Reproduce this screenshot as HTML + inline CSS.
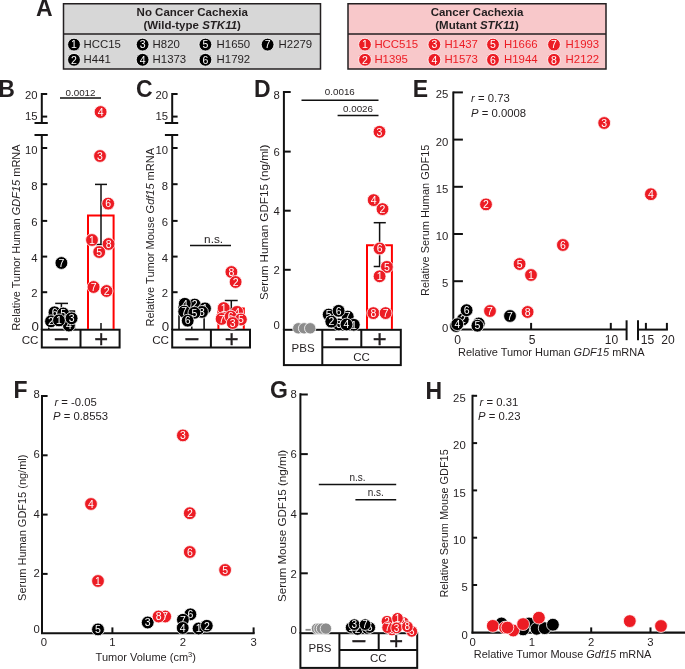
<!DOCTYPE html>
<html><head><meta charset="utf-8"><title>Figure</title>
<style>
html,body{margin:0;padding:0;background:#fff;}
svg{display:block;}
text{font-family:"Liberation Sans", Arial, sans-serif;}
</style></head>
<body>
<svg width="685" height="669" viewBox="0 0 685 669" fill="#231f20">
<rect x="0" y="0" width="685" height="669" fill="#fff"/>
<text x="36.1" y="16.3" font-size="23" font-weight="bold">A</text>
<rect x="63.5" y="3.75" width="257" height="65.25" stroke="#231f20" stroke-width="1.5" fill="#d7d7d7"/>
<line x1="63.5" y1="34" x2="320.5" y2="34" stroke="#231f20" stroke-width="1.5"/>
<text x="192.2" y="15.6" font-size="11.5" text-anchor="middle" font-weight="bold">No Cancer Cachexia</text>
<text x="192.2" y="28.6" font-size="11.5" text-anchor="middle" font-weight="bold">(Wild-type <tspan font-style="italic">STK11</tspan>)</text>
<rect x="348" y="3.75" width="258" height="65.25" stroke="#231f20" stroke-width="1.5" fill="#f8c8ca"/>
<line x1="348" y1="34" x2="606" y2="34" stroke="#231f20" stroke-width="1.5"/>
<text x="477" y="15.6" font-size="11.5" text-anchor="middle" font-weight="bold">Cancer Cachexia</text>
<text x="477" y="28.6" font-size="11.5" text-anchor="middle" font-weight="bold">(Mutant <tspan font-style="italic">STK11</tspan>)</text>
<circle cx="74" cy="44.6" r="6.4" fill="#000" stroke="#fff" stroke-width="0.8"/>
<text x="74" y="48.38" font-size="10.5" text-anchor="middle" fill="#fff">1</text>
<text x="83.6" y="48.2" font-size="11.4">HCC15</text>
<circle cx="74" cy="59.8" r="6.4" fill="#000" stroke="#fff" stroke-width="0.8"/>
<text x="74" y="63.58" font-size="10.5" text-anchor="middle" fill="#fff">2</text>
<text x="83.6" y="63.4" font-size="11.4">H441</text>
<circle cx="142.6" cy="44.6" r="6.4" fill="#000" stroke="#fff" stroke-width="0.8"/>
<text x="142.6" y="48.38" font-size="10.5" text-anchor="middle" fill="#fff">3</text>
<text x="152.6" y="48.2" font-size="11.4">H820</text>
<circle cx="142.6" cy="59.8" r="6.4" fill="#000" stroke="#fff" stroke-width="0.8"/>
<text x="142.6" y="63.58" font-size="10.5" text-anchor="middle" fill="#fff">4</text>
<text x="152.6" y="63.4" font-size="11.4">H1373</text>
<circle cx="205.4" cy="44.6" r="6.4" fill="#000" stroke="#fff" stroke-width="0.8"/>
<text x="205.4" y="48.38" font-size="10.5" text-anchor="middle" fill="#fff">5</text>
<text x="216.6" y="48.2" font-size="11.4">H1650</text>
<circle cx="205.4" cy="59.8" r="6.4" fill="#000" stroke="#fff" stroke-width="0.8"/>
<text x="205.4" y="63.58" font-size="10.5" text-anchor="middle" fill="#fff">6</text>
<text x="216.6" y="63.4" font-size="11.4">H1792</text>
<circle cx="267.6" cy="44.6" r="6.4" fill="#000" stroke="#fff" stroke-width="0.8"/>
<text x="267.6" y="48.38" font-size="10.5" text-anchor="middle" fill="#fff">7</text>
<text x="278.6" y="48.2" font-size="11.4">H2279</text>
<circle cx="365" cy="44.6" r="6.4" fill="#ec1c24" stroke="#fff" stroke-width="0.8"/>
<text x="365" y="48.38" font-size="10.5" text-anchor="middle" fill="#fff">1</text>
<text x="374.4" y="48.2" font-size="11.4" fill="#ec1c24">HCC515</text>
<circle cx="365" cy="59.8" r="6.4" fill="#ec1c24" stroke="#fff" stroke-width="0.8"/>
<text x="365" y="63.58" font-size="10.5" text-anchor="middle" fill="#fff">2</text>
<text x="374.4" y="63.4" font-size="11.4" fill="#ec1c24">H1395</text>
<circle cx="434.4" cy="44.6" r="6.4" fill="#ec1c24" stroke="#fff" stroke-width="0.8"/>
<text x="434.4" y="48.38" font-size="10.5" text-anchor="middle" fill="#fff">3</text>
<text x="444.4" y="48.2" font-size="11.4" fill="#ec1c24">H1437</text>
<circle cx="434.4" cy="59.8" r="6.4" fill="#ec1c24" stroke="#fff" stroke-width="0.8"/>
<text x="434.4" y="63.58" font-size="10.5" text-anchor="middle" fill="#fff">4</text>
<text x="444.4" y="63.4" font-size="11.4" fill="#ec1c24">H1573</text>
<circle cx="493" cy="44.6" r="6.4" fill="#ec1c24" stroke="#fff" stroke-width="0.8"/>
<text x="493" y="48.38" font-size="10.5" text-anchor="middle" fill="#fff">5</text>
<text x="504" y="48.2" font-size="11.4" fill="#ec1c24">H1666</text>
<circle cx="493" cy="59.8" r="6.4" fill="#ec1c24" stroke="#fff" stroke-width="0.8"/>
<text x="493" y="63.58" font-size="10.5" text-anchor="middle" fill="#fff">6</text>
<text x="504" y="63.4" font-size="11.4" fill="#ec1c24">H1944</text>
<circle cx="554" cy="44.6" r="6.4" fill="#ec1c24" stroke="#fff" stroke-width="0.8"/>
<text x="554" y="48.38" font-size="10.5" text-anchor="middle" fill="#fff">7</text>
<text x="565.6" y="48.2" font-size="11.4" fill="#ec1c24">H1993</text>
<circle cx="554" cy="59.8" r="6.4" fill="#ec1c24" stroke="#fff" stroke-width="0.8"/>
<text x="554" y="63.58" font-size="10.5" text-anchor="middle" fill="#fff">8</text>
<text x="565.6" y="63.4" font-size="11.4" fill="#ec1c24">H2122</text>
<text x="-1.7" y="96.6" font-size="23" font-weight="bold">B</text>
<line x1="41.8" y1="93" x2="41.8" y2="123.5" stroke="#111" stroke-width="2"/>
<line x1="41.8" y1="94" x2="47.2" y2="94" stroke="#111" stroke-width="2"/>
<line x1="41.8" y1="116.6" x2="47.2" y2="116.6" stroke="#111" stroke-width="2"/>
<line x1="34.5" y1="123" x2="47.8" y2="123" stroke="#111" stroke-width="2"/>
<line x1="34.5" y1="135" x2="47.8" y2="135" stroke="#111" stroke-width="2"/>
<line x1="41.8" y1="134.5" x2="41.8" y2="330" stroke="#111" stroke-width="2"/>
<line x1="41.8" y1="148" x2="47.2" y2="148" stroke="#111" stroke-width="2"/>
<line x1="41.8" y1="184.2" x2="47.2" y2="184.2" stroke="#111" stroke-width="2"/>
<line x1="41.8" y1="220.9" x2="47.2" y2="220.9" stroke="#111" stroke-width="2"/>
<line x1="41.8" y1="256.6" x2="47.2" y2="256.6" stroke="#111" stroke-width="2"/>
<line x1="41.8" y1="292.2" x2="47.2" y2="292.2" stroke="#111" stroke-width="2"/>
<text x="37.6" y="98.55" font-size="11.3" text-anchor="end">20</text>
<text x="37.6" y="120.15" font-size="11.3" text-anchor="end">15</text>
<text x="37.6" y="154.05" font-size="11.3" text-anchor="end">10</text>
<text x="37.6" y="189.65" font-size="11.3" text-anchor="end">8</text>
<text x="37.6" y="226.15" font-size="11.3" text-anchor="end">6</text>
<text x="37.6" y="262.05" font-size="11.3" text-anchor="end">4</text>
<text x="37.6" y="297.45" font-size="11.3" text-anchor="end">2</text>
<text x="38.8" y="330.66" font-size="13.3" text-anchor="end">0</text>
<rect x="41.8" y="329.7" width="77.8" height="17.8" stroke="#111" stroke-width="2" fill="none"/>
<line x1="80.5" y1="329.7" x2="80.5" y2="347.5" stroke="#111" stroke-width="2"/>
<text x="38.5" y="344.3" font-size="11.6" text-anchor="end">CC</text>
<text x="61.5" y="348" font-size="26.5" text-anchor="middle" stroke="#231f20" stroke-width="0.2">−</text>
<text x="101.2" y="347.4" font-size="23.7" text-anchor="middle" stroke="#231f20" stroke-width="0.35">+</text>
<text transform="translate(19.9,237.6) rotate(-90)" font-size="11" text-anchor="middle">Relative Tumor Human <tspan font-style="italic">GDF15</tspan> mRNA</text>
<line x1="60" y1="98" x2="101" y2="98" stroke="#111" stroke-width="1.5"/>
<text x="80.5" y="95.5" font-size="9.8" text-anchor="middle">0.0012</text>
<path d="M48.8 329V311.1H74.4V329" fill="none" stroke="#111" stroke-width="1.6"/>
<line x1="61.4" y1="303.4" x2="61.4" y2="318" stroke="#111" stroke-width="1.5"/>
<line x1="55.2" y1="303.4" x2="68" y2="303.4" stroke="#111" stroke-width="1.5"/>
<path d="M88 329V215.6H113.6V329" fill="none" stroke="#ff0000" stroke-width="2"/>
<line x1="101" y1="184.4" x2="101" y2="244.5" stroke="#111" stroke-width="1.5"/>
<line x1="95" y1="184.4" x2="107" y2="184.4" stroke="#111" stroke-width="1.5"/>
<line x1="95.5" y1="244.5" x2="106.5" y2="244.5" stroke="#111" stroke-width="1.5"/>
<line x1="101" y1="323" x2="101" y2="330" stroke="#111" stroke-width="1.5"/>
<circle cx="100.6" cy="112" r="6.4" fill="#ec1c24" stroke="#fff" stroke-width="0.8"/>
<text x="100.6" y="115.78" font-size="10.5" text-anchor="middle" fill="#fff">4</text>
<circle cx="100" cy="156" r="6.4" fill="#ec1c24" stroke="#fff" stroke-width="0.8"/>
<text x="100" y="159.78" font-size="10.5" text-anchor="middle" fill="#fff">3</text>
<circle cx="108.2" cy="203.6" r="6.4" fill="#ec1c24" stroke="#fff" stroke-width="0.8"/>
<text x="108.2" y="207.38" font-size="10.5" text-anchor="middle" fill="#fff">6</text>
<circle cx="92" cy="240" r="6.4" fill="#ec1c24" stroke="#fff" stroke-width="0.8"/>
<text x="92" y="243.78" font-size="10.5" text-anchor="middle" fill="#fff">1</text>
<circle cx="108.6" cy="244" r="6.4" fill="#ec1c24" stroke="#fff" stroke-width="0.8"/>
<text x="108.6" y="247.78" font-size="10.5" text-anchor="middle" fill="#fff">8</text>
<circle cx="99.2" cy="252" r="6.4" fill="#ec1c24" stroke="#fff" stroke-width="0.8"/>
<text x="99.2" y="255.78" font-size="10.5" text-anchor="middle" fill="#fff">5</text>
<circle cx="93.6" cy="287" r="6.4" fill="#ec1c24" stroke="#fff" stroke-width="0.8"/>
<text x="93.6" y="290.78" font-size="10.5" text-anchor="middle" fill="#fff">7</text>
<circle cx="106.6" cy="291" r="6.4" fill="#ec1c24" stroke="#fff" stroke-width="0.8"/>
<text x="106.6" y="294.78" font-size="10.5" text-anchor="middle" fill="#fff">2</text>
<circle cx="61.4" cy="263" r="6.4" fill="#000" stroke="#fff" stroke-width="0.8"/>
<text x="61.4" y="266.78" font-size="10.5" text-anchor="middle" fill="#fff">7</text>
<circle cx="54.6" cy="312.3" r="6.4" fill="#000" stroke="#fff" stroke-width="0.8"/>
<text x="54.6" y="316.08" font-size="10.5" text-anchor="middle" fill="#fff">6</text>
<circle cx="63.2" cy="313.5" r="6.4" fill="#000" stroke="#fff" stroke-width="0.8"/>
<text x="63.2" y="317.28" font-size="10.5" text-anchor="middle" fill="#fff">5</text>
<circle cx="51" cy="321.3" r="6.4" fill="#000" stroke="#fff" stroke-width="0.8"/>
<text x="51" y="325.08" font-size="10.5" text-anchor="middle" fill="#fff">2</text>
<circle cx="68.9" cy="325.5" r="6.4" fill="#000" stroke="#fff" stroke-width="0.8"/>
<text x="68.9" y="329.28" font-size="10.5" text-anchor="middle" fill="#fff">4</text>
<circle cx="59" cy="320.4" r="6.4" fill="#000" stroke="#fff" stroke-width="0.8"/>
<text x="59" y="324.18" font-size="10.5" text-anchor="middle" fill="#fff">1</text>
<circle cx="71.6" cy="318.3" r="6.4" fill="#000" stroke="#fff" stroke-width="0.8"/>
<text x="71.6" y="322.08" font-size="10.5" text-anchor="middle" fill="#fff">3</text>
<text x="136.1" y="97" font-size="23" font-weight="bold">C</text>
<line x1="172.2" y1="93" x2="172.2" y2="123.5" stroke="#111" stroke-width="2"/>
<line x1="172.2" y1="94" x2="177.6" y2="94" stroke="#111" stroke-width="2"/>
<line x1="172.2" y1="116.6" x2="177.6" y2="116.6" stroke="#111" stroke-width="2"/>
<line x1="164.9" y1="123" x2="178.2" y2="123" stroke="#111" stroke-width="2"/>
<line x1="164.9" y1="135" x2="178.2" y2="135" stroke="#111" stroke-width="2"/>
<line x1="172.2" y1="134.5" x2="172.2" y2="330" stroke="#111" stroke-width="2"/>
<line x1="172.2" y1="148" x2="177.6" y2="148" stroke="#111" stroke-width="2"/>
<line x1="172.2" y1="184.2" x2="177.6" y2="184.2" stroke="#111" stroke-width="2"/>
<line x1="172.2" y1="220.9" x2="177.6" y2="220.9" stroke="#111" stroke-width="2"/>
<line x1="172.2" y1="256.6" x2="177.6" y2="256.6" stroke="#111" stroke-width="2"/>
<line x1="172.2" y1="292.2" x2="177.6" y2="292.2" stroke="#111" stroke-width="2"/>
<text x="168" y="98.55" font-size="11.3" text-anchor="end">20</text>
<text x="168" y="120.15" font-size="11.3" text-anchor="end">15</text>
<text x="168" y="154.05" font-size="11.3" text-anchor="end">10</text>
<text x="168" y="189.65" font-size="11.3" text-anchor="end">8</text>
<text x="168" y="226.15" font-size="11.3" text-anchor="end">6</text>
<text x="168" y="262.05" font-size="11.3" text-anchor="end">4</text>
<text x="168" y="297.45" font-size="11.3" text-anchor="end">2</text>
<text x="169.2" y="330.66" font-size="13.3" text-anchor="end">0</text>
<rect x="172.2" y="329.7" width="77.8" height="17.8" stroke="#111" stroke-width="2" fill="none"/>
<line x1="210.9" y1="329.7" x2="210.9" y2="347.5" stroke="#111" stroke-width="2"/>
<text x="168.9" y="344.3" font-size="11.6" text-anchor="end">CC</text>
<text x="191.9" y="348" font-size="26.5" text-anchor="middle" stroke="#231f20" stroke-width="0.2">−</text>
<text x="231.6" y="347.4" font-size="23.7" text-anchor="middle" stroke="#231f20" stroke-width="0.35">+</text>
<text transform="translate(153.9,237.25) rotate(-90)" font-size="11" text-anchor="middle">Relative Tumor Mouse <tspan font-style="italic">Gdf15</tspan> mRNA</text>
<line x1="190" y1="245.6" x2="231" y2="245.6" stroke="#111" stroke-width="1.5"/>
<text x="213.6" y="242.6" font-size="11.8" text-anchor="middle">n.s.</text>
<path d="M179 329V306H204.1V329" fill="none" stroke="#111" stroke-width="1.6"/>
<line x1="191.8" y1="326.5" x2="191.8" y2="329" stroke="#111" stroke-width="1.5"/>
<path d="M218.4 329V308.4H243.8V329" fill="none" stroke="#ff0000" stroke-width="2"/>
<line x1="231.3" y1="300.5" x2="231.3" y2="312" stroke="#111" stroke-width="1.5"/>
<line x1="224.8" y1="300.5" x2="237.7" y2="300.5" stroke="#111" stroke-width="1.5"/>
<circle cx="194.7" cy="304.6" r="6.4" fill="#000" stroke="#fff" stroke-width="0.8"/>
<text x="194.7" y="308.38" font-size="10.5" text-anchor="middle" fill="#fff">2</text>
<circle cx="205" cy="308.4" r="6.4" fill="#000" stroke="#fff" stroke-width="0.8"/>
<text x="205" y="312.18" font-size="10.5" text-anchor="middle" fill="#fff">1</text>
<circle cx="184.8" cy="303.8" r="6.4" fill="#000" stroke="#fff" stroke-width="0.8"/>
<text x="184.8" y="307.58" font-size="10.5" text-anchor="middle" fill="#fff">4</text>
<circle cx="202" cy="311.9" r="6.4" fill="#000" stroke="#fff" stroke-width="0.8"/>
<text x="202" y="315.68" font-size="10.5" text-anchor="middle" fill="#fff">3</text>
<circle cx="184.2" cy="311.6" r="6.4" fill="#000" stroke="#fff" stroke-width="0.8"/>
<text x="184.2" y="315.38" font-size="10.5" text-anchor="middle" fill="#fff">7</text>
<circle cx="194.4" cy="312.8" r="6.4" fill="#000" stroke="#fff" stroke-width="0.8"/>
<text x="194.4" y="316.58" font-size="10.5" text-anchor="middle" fill="#fff">5</text>
<circle cx="187.7" cy="320.7" r="6.4" fill="#000" stroke="#fff" stroke-width="0.8"/>
<text x="187.7" y="324.48" font-size="10.5" text-anchor="middle" fill="#fff">6</text>
<circle cx="231.4" cy="272" r="6.4" fill="#ec1c24" stroke="#fff" stroke-width="0.8"/>
<text x="231.4" y="275.78" font-size="10.5" text-anchor="middle" fill="#fff">8</text>
<circle cx="235.6" cy="282" r="6.4" fill="#ec1c24" stroke="#fff" stroke-width="0.8"/>
<text x="235.6" y="285.78" font-size="10.5" text-anchor="middle" fill="#fff">2</text>
<circle cx="237.1" cy="311.9" r="6.4" fill="#ec1c24" stroke="#fff" stroke-width="0.8"/>
<text x="237.1" y="315.68" font-size="10.5" text-anchor="middle" fill="#fff">4</text>
<circle cx="223.7" cy="308.1" r="6.4" fill="#ec1c24" stroke="#fff" stroke-width="0.8"/>
<text x="223.7" y="311.88" font-size="10.5" text-anchor="middle" fill="#fff">1</text>
<circle cx="221.6" cy="318.9" r="6.4" fill="#ec1c24" stroke="#fff" stroke-width="0.8"/>
<text x="221.6" y="322.68" font-size="10.5" text-anchor="middle" fill="#fff">7</text>
<circle cx="230.7" cy="316.6" r="6.4" fill="#ec1c24" stroke="#fff" stroke-width="0.8"/>
<text x="230.7" y="320.38" font-size="10.5" text-anchor="middle" fill="#fff">6</text>
<circle cx="240.9" cy="319.5" r="6.4" fill="#ec1c24" stroke="#fff" stroke-width="0.8"/>
<text x="240.9" y="323.28" font-size="10.5" text-anchor="middle" fill="#fff">5</text>
<circle cx="232.7" cy="323" r="6.4" fill="#ec1c24" stroke="#fff" stroke-width="0.8"/>
<text x="232.7" y="326.78" font-size="10.5" text-anchor="middle" fill="#fff">3</text>
<text x="254" y="96.9" font-size="23" font-weight="bold">D</text>
<line x1="283.9" y1="91" x2="283.9" y2="330" stroke="#111" stroke-width="2"/>
<line x1="283.9" y1="92" x2="290.7" y2="92" stroke="#111" stroke-width="2"/>
<line x1="283.9" y1="151.6" x2="290.7" y2="151.6" stroke="#111" stroke-width="2"/>
<line x1="283.9" y1="210.7" x2="290.7" y2="210.7" stroke="#111" stroke-width="2"/>
<line x1="283.9" y1="269.8" x2="290.7" y2="269.8" stroke="#111" stroke-width="2"/>
<text x="279.9" y="98.85" font-size="11.3" text-anchor="end">8</text>
<text x="279.9" y="155.75" font-size="11.3" text-anchor="end">6</text>
<text x="279.9" y="215.45" font-size="11.3" text-anchor="end">4</text>
<text x="279.9" y="274.35" font-size="11.3" text-anchor="end">2</text>
<text x="279.9" y="329.45" font-size="11.3" text-anchor="end">0</text>
<text transform="translate(267.8,222.3) rotate(-90)" font-size="11.65" text-anchor="middle">Serum Human GDF15 (ng/ml)</text>
<line x1="301.5" y1="100.2" x2="378.5" y2="100.2" stroke="#111" stroke-width="1.5"/>
<text x="339.8" y="94.7" font-size="9.8" text-anchor="middle">0.0016</text>
<line x1="337.6" y1="115.5" x2="378.5" y2="115.5" stroke="#111" stroke-width="1.5"/>
<text x="358" y="111.6" font-size="9.8" text-anchor="middle">0.0026</text>
<rect x="283.9" y="329.8" width="116.9" height="35.3" stroke="#111" stroke-width="2" fill="none"/>
<line x1="322.3" y1="329.8" x2="322.3" y2="365.1" stroke="#111" stroke-width="2"/>
<line x1="361.3" y1="329.8" x2="361.3" y2="347.3" stroke="#111" stroke-width="2"/>
<line x1="322.3" y1="347.3" x2="400.8" y2="347.3" stroke="#111" stroke-width="2"/>
<text x="303.1" y="351.5" font-size="11.5" text-anchor="middle">PBS</text>
<text x="361.5" y="361" font-size="11.5" text-anchor="middle">CC</text>
<text x="341.8" y="347.5" font-size="26.5" text-anchor="middle" stroke="#231f20" stroke-width="0.2">−</text>
<text x="379.6" y="346.6" font-size="23.7" text-anchor="middle" stroke="#231f20" stroke-width="0.35">+</text>
<path d="M367 329V245.3H391.9V329" fill="none" stroke="#ff0000" stroke-width="2"/>
<line x1="379.6" y1="222.7" x2="379.6" y2="266.5" stroke="#111" stroke-width="1.5"/>
<line x1="373.7" y1="222.7" x2="385.8" y2="222.7" stroke="#111" stroke-width="1.5"/>
<line x1="373.7" y1="266.5" x2="385.5" y2="266.5" stroke="#111" stroke-width="1.5"/>
<circle cx="298.3" cy="328.3" r="5.7" fill="#8c8c8c" stroke="#fff" stroke-width="0.8"/>
<circle cx="304.1" cy="328.3" r="5.7" fill="#8c8c8c" stroke="#fff" stroke-width="0.8"/>
<circle cx="310.2" cy="328.3" r="5.7" fill="#8c8c8c" stroke="#fff" stroke-width="0.8"/>
<circle cx="328.7" cy="314.6" r="6.4" fill="#000" stroke="#fff" stroke-width="0.8"/>
<text x="328.7" y="318.38" font-size="10.5" text-anchor="middle" fill="#fff">5</text>
<circle cx="347.7" cy="316.6" r="6.4" fill="#000" stroke="#fff" stroke-width="0.8"/>
<text x="347.7" y="320.38" font-size="10.5" text-anchor="middle" fill="#fff">7</text>
<circle cx="338.6" cy="310.8" r="6.4" fill="#000" stroke="#fff" stroke-width="0.8"/>
<text x="338.6" y="314.58" font-size="10.5" text-anchor="middle" fill="#fff">6</text>
<circle cx="338.9" cy="324.5" r="6.4" fill="#000" stroke="#fff" stroke-width="0.8"/>
<text x="338.9" y="328.28" font-size="10.5" text-anchor="middle" fill="#fff">3</text>
<circle cx="353.8" cy="324.8" r="6.4" fill="#000" stroke="#fff" stroke-width="0.8"/>
<text x="353.8" y="328.58" font-size="10.5" text-anchor="middle" fill="#fff">1</text>
<circle cx="346.5" cy="324.5" r="6.4" fill="#000" stroke="#fff" stroke-width="0.8"/>
<text x="346.5" y="328.28" font-size="10.5" text-anchor="middle" fill="#fff">4</text>
<circle cx="331.3" cy="321.6" r="6.4" fill="#000" stroke="#fff" stroke-width="0.8"/>
<text x="331.3" y="325.38" font-size="10.5" text-anchor="middle" fill="#fff">2</text>
<circle cx="379.5" cy="131.8" r="6.4" fill="#ec1c24" stroke="#fff" stroke-width="0.8"/>
<text x="379.5" y="135.58" font-size="10.5" text-anchor="middle" fill="#fff">3</text>
<circle cx="373.7" cy="200.1" r="6.4" fill="#ec1c24" stroke="#fff" stroke-width="0.8"/>
<text x="373.7" y="203.88" font-size="10.5" text-anchor="middle" fill="#fff">4</text>
<circle cx="382.5" cy="209.1" r="6.4" fill="#ec1c24" stroke="#fff" stroke-width="0.8"/>
<text x="382.5" y="212.88" font-size="10.5" text-anchor="middle" fill="#fff">2</text>
<circle cx="379.6" cy="248.5" r="6.4" fill="#ec1c24" stroke="#fff" stroke-width="0.8"/>
<text x="379.6" y="252.28" font-size="10.5" text-anchor="middle" fill="#fff">6</text>
<circle cx="386.9" cy="266.9" r="6.4" fill="#ec1c24" stroke="#fff" stroke-width="0.8"/>
<text x="386.9" y="270.68" font-size="10.5" text-anchor="middle" fill="#fff">5</text>
<circle cx="379.6" cy="276.3" r="6.4" fill="#ec1c24" stroke="#fff" stroke-width="0.8"/>
<text x="379.6" y="280.08" font-size="10.5" text-anchor="middle" fill="#fff">1</text>
<circle cx="373.3" cy="313.1" r="6.4" fill="#ec1c24" stroke="#fff" stroke-width="0.8"/>
<text x="373.3" y="316.88" font-size="10.5" text-anchor="middle" fill="#fff">8</text>
<circle cx="385.6" cy="313.1" r="6.4" fill="#ec1c24" stroke="#fff" stroke-width="0.8"/>
<text x="385.6" y="316.88" font-size="10.5" text-anchor="middle" fill="#fff">7</text>
<text x="412.8" y="96.8" font-size="23" font-weight="bold">E</text>
<line x1="453.3" y1="91.5" x2="453.3" y2="330" stroke="#111" stroke-width="2"/>
<line x1="453.3" y1="92.4" x2="462.9" y2="92.4" stroke="#111" stroke-width="2"/>
<line x1="453.3" y1="139.6" x2="462.9" y2="139.6" stroke="#111" stroke-width="2"/>
<line x1="453.3" y1="186.8" x2="462.9" y2="186.8" stroke="#111" stroke-width="2"/>
<line x1="453.3" y1="234" x2="462.9" y2="234" stroke="#111" stroke-width="2"/>
<line x1="453.3" y1="281.2" x2="462.9" y2="281.2" stroke="#111" stroke-width="2"/>
<text x="448.4" y="98.35" font-size="11.3" text-anchor="end">25</text>
<text x="448.4" y="145.55" font-size="11.3" text-anchor="end">20</text>
<text x="448.4" y="192.75" font-size="11.3" text-anchor="end">15</text>
<text x="448.4" y="239.95" font-size="11.3" text-anchor="end">10</text>
<text x="448.4" y="287.15" font-size="11.3" text-anchor="end">5</text>
<text x="448.4" y="331.75" font-size="11.3" text-anchor="end">0</text>
<text transform="translate(428.8,220.25) rotate(-90)" font-size="10.95" text-anchor="middle">Relative Serum Human GDF15</text>
<line x1="452.3" y1="329.6" x2="626.6" y2="329.6" stroke="#111" stroke-width="2"/>
<line x1="638" y1="329.6" x2="667.9" y2="329.6" stroke="#111" stroke-width="2"/>
<line x1="626.6" y1="320.3" x2="626.6" y2="340.2" stroke="#111" stroke-width="2"/>
<line x1="638" y1="320.3" x2="638" y2="340.2" stroke="#111" stroke-width="2"/>
<line x1="531.1" y1="322.9" x2="531.1" y2="329.6" stroke="#111" stroke-width="2"/>
<line x1="610.8" y1="322.9" x2="610.8" y2="329.6" stroke="#111" stroke-width="2"/>
<line x1="645.9" y1="322.9" x2="645.9" y2="329.6" stroke="#111" stroke-width="2"/>
<line x1="666.9" y1="322.9" x2="666.9" y2="329.6" stroke="#111" stroke-width="2"/>
<text x="532" y="343.6" font-size="12.1" text-anchor="middle">5</text>
<text x="611.4" y="343.6" font-size="12.1" text-anchor="middle">10</text>
<text x="647.5" y="343.6" font-size="12.1" text-anchor="middle">15</text>
<text x="668" y="343.6" font-size="12.1" text-anchor="middle">20</text>
<text x="457.5" y="343.6" font-size="12.1" text-anchor="middle">0</text>
<text x="551.3" y="355.7" font-size="11" text-anchor="middle">Relative Tumor Human <tspan font-style="italic">GDF15</tspan> mRNA</text>
<text x="471.1" y="102.3" font-size="11.3"><tspan font-style="italic">r</tspan> = 0.73</text>
<text x="471.1" y="117.1" font-size="11.3"><tspan font-style="italic">P</tspan> = 0.0008</text>
<circle cx="456" cy="326" r="6.4" fill="#000" stroke="#fff" stroke-width="0.8"/>
<text x="456" y="329.78" font-size="10.5" text-anchor="middle" fill="#fff">3</text>
<circle cx="478.8" cy="323.5" r="6.4" fill="#000" stroke="#fff" stroke-width="0.8"/>
<text x="478.8" y="327.28" font-size="10.5" text-anchor="middle" fill="#fff">1</text>
<circle cx="462.8" cy="319.5" r="6.4" fill="#000" stroke="#fff" stroke-width="0.8"/>
<text x="462.8" y="323.28" font-size="10.5" text-anchor="middle" fill="#fff">2</text>
<circle cx="466.6" cy="310.2" r="6.4" fill="#000" stroke="#fff" stroke-width="0.8"/>
<text x="466.6" y="313.98" font-size="10.5" text-anchor="middle" fill="#fff">6</text>
<circle cx="457.3" cy="324.2" r="6.4" fill="#000" stroke="#fff" stroke-width="0.8"/>
<text x="457.3" y="327.98" font-size="10.5" text-anchor="middle" fill="#fff">4</text>
<circle cx="477.4" cy="325.7" r="6.4" fill="#000" stroke="#fff" stroke-width="0.8"/>
<text x="477.4" y="329.48" font-size="10.5" text-anchor="middle" fill="#fff">5</text>
<circle cx="510" cy="316" r="6.4" fill="#000" stroke="#fff" stroke-width="0.8"/>
<text x="510" y="319.78" font-size="10.5" text-anchor="middle" fill="#fff">7</text>
<circle cx="604.2" cy="123" r="6.4" fill="#ec1c24" stroke="#fff" stroke-width="0.8"/>
<text x="604.2" y="126.78" font-size="10.5" text-anchor="middle" fill="#fff">3</text>
<circle cx="486" cy="204.4" r="6.4" fill="#ec1c24" stroke="#fff" stroke-width="0.8"/>
<text x="486" y="208.18" font-size="10.5" text-anchor="middle" fill="#fff">2</text>
<circle cx="650.9" cy="194.2" r="6.4" fill="#ec1c24" stroke="#fff" stroke-width="0.8"/>
<text x="650.9" y="197.98" font-size="10.5" text-anchor="middle" fill="#fff">4</text>
<circle cx="562.9" cy="245" r="6.4" fill="#ec1c24" stroke="#fff" stroke-width="0.8"/>
<text x="562.9" y="248.78" font-size="10.5" text-anchor="middle" fill="#fff">6</text>
<circle cx="519.6" cy="264" r="6.4" fill="#ec1c24" stroke="#fff" stroke-width="0.8"/>
<text x="519.6" y="267.78" font-size="10.5" text-anchor="middle" fill="#fff">5</text>
<circle cx="531" cy="275" r="6.4" fill="#ec1c24" stroke="#fff" stroke-width="0.8"/>
<text x="531" y="278.78" font-size="10.5" text-anchor="middle" fill="#fff">1</text>
<circle cx="490" cy="311" r="6.4" fill="#ec1c24" stroke="#fff" stroke-width="0.8"/>
<text x="490" y="314.78" font-size="10.5" text-anchor="middle" fill="#fff">7</text>
<circle cx="527.6" cy="312" r="6.4" fill="#ec1c24" stroke="#fff" stroke-width="0.8"/>
<text x="527.6" y="315.78" font-size="10.5" text-anchor="middle" fill="#fff">8</text>
<text x="13.5" y="398" font-size="23" font-weight="bold">F</text>
<line x1="42" y1="395" x2="42" y2="634" stroke="#111" stroke-width="2"/>
<line x1="42" y1="396" x2="47.6" y2="396" stroke="#111" stroke-width="2"/>
<line x1="42" y1="455.3" x2="47.6" y2="455.3" stroke="#111" stroke-width="2"/>
<line x1="42" y1="514.6" x2="47.6" y2="514.6" stroke="#111" stroke-width="2"/>
<line x1="42" y1="573.9" x2="47.6" y2="573.9" stroke="#111" stroke-width="2"/>
<text x="39.7" y="398.05" font-size="11.3" text-anchor="end">8</text>
<text x="39.7" y="458.05" font-size="11.3" text-anchor="end">6</text>
<text x="39.7" y="517.65" font-size="11.3" text-anchor="end">4</text>
<text x="39.7" y="577.15" font-size="11.3" text-anchor="end">2</text>
<text x="39.7" y="633.25" font-size="11.3" text-anchor="end">0</text>
<line x1="41" y1="633.2" x2="254.7" y2="633.2" stroke="#111" stroke-width="2"/>
<line x1="112.4" y1="627.4" x2="112.4" y2="633.2" stroke="#111" stroke-width="2"/>
<line x1="183" y1="627.4" x2="183" y2="633.2" stroke="#111" stroke-width="2"/>
<line x1="253.6" y1="627.4" x2="253.6" y2="633.2" stroke="#111" stroke-width="2"/>
<text x="43.8" y="645.9" font-size="11.3" text-anchor="middle">0</text>
<text x="112.4" y="645.9" font-size="11.3" text-anchor="middle">1</text>
<text x="183" y="645.9" font-size="11.3" text-anchor="middle">2</text>
<text x="253.6" y="645.9" font-size="11.3" text-anchor="middle">3</text>
<text x="95.6" y="660.7" font-size="11">Tumor Volume (cm<tspan font-size="7.5" dy="-4">3</tspan><tspan dy="4">)</tspan></text>
<text transform="translate(25.8,527.75) rotate(-90)" font-size="10.97" text-anchor="middle">Serum Human GDF15 (ng/ml)</text>
<text x="54.4" y="405.6" font-size="11.3"><tspan font-style="italic">r</tspan> = -0.05</text>
<text x="53" y="420" font-size="11.3"><tspan font-style="italic">P</tspan> = 0.8553</text>
<circle cx="98" cy="629.4" r="6.4" fill="#000" stroke="#fff" stroke-width="0.8"/>
<text x="98" y="633.18" font-size="10.5" text-anchor="middle" fill="#fff">5</text>
<circle cx="147.7" cy="622.5" r="6.4" fill="#000" stroke="#fff" stroke-width="0.8"/>
<text x="147.7" y="626.28" font-size="10.5" text-anchor="middle" fill="#fff">3</text>
<circle cx="190.4" cy="614.3" r="6.4" fill="#000" stroke="#fff" stroke-width="0.8"/>
<text x="190.4" y="618.08" font-size="10.5" text-anchor="middle" fill="#fff">6</text>
<circle cx="182.9" cy="619.8" r="6.4" fill="#000" stroke="#fff" stroke-width="0.8"/>
<text x="182.9" y="623.58" font-size="10.5" text-anchor="middle" fill="#fff">7</text>
<circle cx="182.7" cy="628" r="6.4" fill="#000" stroke="#fff" stroke-width="0.8"/>
<text x="182.7" y="631.78" font-size="10.5" text-anchor="middle" fill="#fff">4</text>
<circle cx="198.6" cy="628.5" r="6.4" fill="#000" stroke="#fff" stroke-width="0.8"/>
<text x="198.6" y="632.28" font-size="10.5" text-anchor="middle" fill="#fff">1</text>
<circle cx="206.8" cy="625.8" r="6.4" fill="#000" stroke="#fff" stroke-width="0.8"/>
<text x="206.8" y="629.58" font-size="10.5" text-anchor="middle" fill="#fff">2</text>
<circle cx="182.9" cy="435.4" r="6.4" fill="#ec1c24" stroke="#fff" stroke-width="0.8"/>
<text x="182.9" y="439.18" font-size="10.5" text-anchor="middle" fill="#fff">3</text>
<circle cx="91" cy="504" r="6.4" fill="#ec1c24" stroke="#fff" stroke-width="0.8"/>
<text x="91" y="507.78" font-size="10.5" text-anchor="middle" fill="#fff">4</text>
<circle cx="189.8" cy="513.2" r="6.4" fill="#ec1c24" stroke="#fff" stroke-width="0.8"/>
<text x="189.8" y="516.98" font-size="10.5" text-anchor="middle" fill="#fff">2</text>
<circle cx="189.8" cy="552" r="6.4" fill="#ec1c24" stroke="#fff" stroke-width="0.8"/>
<text x="189.8" y="555.78" font-size="10.5" text-anchor="middle" fill="#fff">6</text>
<circle cx="225.1" cy="570" r="6.4" fill="#ec1c24" stroke="#fff" stroke-width="0.8"/>
<text x="225.1" y="573.78" font-size="10.5" text-anchor="middle" fill="#fff">5</text>
<circle cx="98" cy="581" r="6.4" fill="#ec1c24" stroke="#fff" stroke-width="0.8"/>
<text x="98" y="584.78" font-size="10.5" text-anchor="middle" fill="#fff">1</text>
<circle cx="165.2" cy="616.5" r="6.4" fill="#ec1c24" stroke="#fff" stroke-width="0.8"/>
<text x="165.2" y="620.28" font-size="10.5" text-anchor="middle" fill="#fff">7</text>
<circle cx="158.6" cy="616.5" r="6.4" fill="#ec1c24" stroke="#fff" stroke-width="0.8"/>
<text x="158.6" y="620.28" font-size="10.5" text-anchor="middle" fill="#fff">8</text>
<text x="269.9" y="398.2" font-size="23" font-weight="bold">G</text>
<line x1="300.4" y1="393.2" x2="300.4" y2="633.5" stroke="#111" stroke-width="2"/>
<line x1="300.4" y1="394.5" x2="307.8" y2="394.5" stroke="#111" stroke-width="2"/>
<line x1="300.4" y1="454.1" x2="307.8" y2="454.1" stroke="#111" stroke-width="2"/>
<line x1="300.4" y1="513.7" x2="307.8" y2="513.7" stroke="#111" stroke-width="2"/>
<line x1="300.4" y1="573.3" x2="307.8" y2="573.3" stroke="#111" stroke-width="2"/>
<text x="296.9" y="398.05" font-size="11.3" text-anchor="end">8</text>
<text x="296.9" y="458.05" font-size="11.3" text-anchor="end">6</text>
<text x="296.9" y="517.95" font-size="11.3" text-anchor="end">4</text>
<text x="296.9" y="577.65" font-size="11.3" text-anchor="end">2</text>
<text x="296.9" y="633.75" font-size="11.3" text-anchor="end">0</text>
<text transform="translate(286,525.95) rotate(-90)" font-size="11.6" text-anchor="middle">Serum Mouse GDF15 (ng/ml)</text>
<line x1="318.8" y1="484.4" x2="396.2" y2="484.4" stroke="#111" stroke-width="1.5"/>
<text x="357.6" y="480.8" font-size="10" text-anchor="middle">n.s.</text>
<line x1="355.4" y1="499.7" x2="396.2" y2="499.7" stroke="#111" stroke-width="1.5"/>
<text x="375.7" y="496" font-size="10" text-anchor="middle">n.s.</text>
<rect x="300.4" y="633.2" width="116.8" height="34.7" stroke="#111" stroke-width="2" fill="none"/>
<line x1="339.4" y1="633.2" x2="339.4" y2="667.9" stroke="#111" stroke-width="2"/>
<line x1="378.7" y1="633.2" x2="378.7" y2="650" stroke="#111" stroke-width="2"/>
<line x1="339.4" y1="650" x2="417.2" y2="650" stroke="#111" stroke-width="2"/>
<text x="320" y="651.7" font-size="11.5" text-anchor="middle">PBS</text>
<text x="378.2" y="662.1" font-size="11.5" text-anchor="middle">CC</text>
<text x="359" y="650.3" font-size="26.5" text-anchor="middle" stroke="#231f20" stroke-width="0.2">−</text>
<text x="396.2" y="649.4" font-size="23.7" text-anchor="middle" stroke="#231f20" stroke-width="0.35">+</text>
<line x1="305.5" y1="629.8" x2="310.8" y2="629.8" stroke="#8c8c8c" stroke-width="1.8"/>
<circle cx="317" cy="628.6" r="5.7" fill="#8c8c8c" stroke="#fff" stroke-width="0.8"/>
<circle cx="319.5" cy="628.6" r="5.7" fill="#8c8c8c" stroke="#fff" stroke-width="0.8"/>
<circle cx="322" cy="628.6" r="5.7" fill="#8c8c8c" stroke="#fff" stroke-width="0.8"/>
<circle cx="325.9" cy="628.6" r="5.7" fill="#8c8c8c" stroke="#fff" stroke-width="0.8"/>
<circle cx="351.1" cy="627.5" r="5.8" fill="#000" stroke="#fff" stroke-width="0.8"/>
<text x="351.1" y="631.1" font-size="10" text-anchor="middle" fill="#fff">1</text>
<circle cx="357.5" cy="629.5" r="5.8" fill="#000" stroke="#fff" stroke-width="0.8"/>
<text x="357.5" y="633.1" font-size="10" text-anchor="middle" fill="#fff">2</text>
<circle cx="367.4" cy="628.6" r="5.8" fill="#000" stroke="#fff" stroke-width="0.8"/>
<text x="367.4" y="632.2" font-size="10" text-anchor="middle" fill="#fff">4</text>
<circle cx="369.8" cy="627.5" r="5.8" fill="#000" stroke="#fff" stroke-width="0.8"/>
<text x="369.8" y="631.1" font-size="10" text-anchor="middle" fill="#fff">5</text>
<circle cx="354.3" cy="624.6" r="5.8" fill="#000" stroke="#fff" stroke-width="0.8"/>
<text x="354.3" y="628.2" font-size="10" text-anchor="middle" fill="#fff">3</text>
<circle cx="365.1" cy="624.6" r="5.8" fill="#000" stroke="#fff" stroke-width="0.8"/>
<text x="365.1" y="628.2" font-size="10" text-anchor="middle" fill="#fff">7</text>
<circle cx="411.8" cy="631.4" r="5.8" fill="#ec1c24" stroke="#fff" stroke-width="0.8"/>
<text x="411.8" y="635" font-size="10" text-anchor="middle" fill="#fff">5</text>
<circle cx="387" cy="621.2" r="5.8" fill="#ec1c24" stroke="#fff" stroke-width="0.8"/>
<text x="387" y="624.8" font-size="10" text-anchor="middle" fill="#fff">2</text>
<circle cx="403.4" cy="622.5" r="5.8" fill="#ec1c24" stroke="#fff" stroke-width="0.8"/>
<text x="403.4" y="626.1" font-size="10" text-anchor="middle" fill="#fff">4</text>
<circle cx="397.5" cy="618.3" r="5.8" fill="#ec1c24" stroke="#fff" stroke-width="0.8"/>
<text x="397.5" y="621.9" font-size="10" text-anchor="middle" fill="#fff">1</text>
<circle cx="392" cy="630" r="5.8" fill="#ec1c24" stroke="#fff" stroke-width="0.8"/>
<text x="392" y="633.6" font-size="10" text-anchor="middle" fill="#fff">6</text>
<circle cx="387.6" cy="627.6" r="5.8" fill="#ec1c24" stroke="#fff" stroke-width="0.8"/>
<text x="387.6" y="631.2" font-size="10" text-anchor="middle" fill="#fff">7</text>
<circle cx="396.6" cy="627.9" r="5.8" fill="#ec1c24" stroke="#fff" stroke-width="0.8"/>
<text x="396.6" y="631.5" font-size="10" text-anchor="middle" fill="#fff">3</text>
<circle cx="407.4" cy="626.7" r="5.8" fill="#ec1c24" stroke="#fff" stroke-width="0.8"/>
<text x="407.4" y="630.3" font-size="10" text-anchor="middle" fill="#fff">8</text>
<text x="425.5" y="399" font-size="23" font-weight="bold">H</text>
<line x1="472.5" y1="394.8" x2="472.5" y2="633.5" stroke="#111" stroke-width="2"/>
<line x1="472.5" y1="395.8" x2="477.1" y2="395.8" stroke="#111" stroke-width="2"/>
<line x1="472.5" y1="443.1" x2="477.1" y2="443.1" stroke="#111" stroke-width="2"/>
<line x1="472.5" y1="490.4" x2="477.1" y2="490.4" stroke="#111" stroke-width="2"/>
<line x1="472.5" y1="537.7" x2="477.1" y2="537.7" stroke="#111" stroke-width="2"/>
<line x1="472.5" y1="585" x2="477.1" y2="585" stroke="#111" stroke-width="2"/>
<text x="465.7" y="401.75" font-size="11.3" text-anchor="end">25</text>
<text x="465.7" y="448.85" font-size="11.3" text-anchor="end">20</text>
<text x="465.7" y="496.55" font-size="11.3" text-anchor="end">15</text>
<text x="465.7" y="543.75" font-size="11.3" text-anchor="end">10</text>
<text x="467.9" y="591.35" font-size="11.3" text-anchor="end">5</text>
<text x="467.9" y="638.55" font-size="11.3" text-anchor="end">0</text>
<text transform="translate(447.9,523.45) rotate(-90)" font-size="10.9" text-anchor="middle">Relative Serum Mouse GDF15</text>
<line x1="471.5" y1="632.6" x2="685" y2="632.6" stroke="#111" stroke-width="2.2"/>
<line x1="531.9" y1="627.4" x2="531.9" y2="633" stroke="#111" stroke-width="2"/>
<line x1="591.2" y1="627.4" x2="591.2" y2="633" stroke="#111" stroke-width="2"/>
<line x1="650.5" y1="627.4" x2="650.5" y2="633" stroke="#111" stroke-width="2"/>
<text x="472.6" y="645.9" font-size="11.3" text-anchor="middle">0</text>
<text x="531.9" y="645.9" font-size="11.3" text-anchor="middle">1</text>
<text x="591.2" y="645.9" font-size="11.3" text-anchor="middle">2</text>
<text x="650.5" y="645.9" font-size="11.3" text-anchor="middle">3</text>
<text x="562.6" y="658.4" font-size="10.95" text-anchor="middle">Relative Tumor Mouse <tspan font-style="italic">Gdf15</tspan> mRNA</text>
<text x="479.6" y="405.6" font-size="11.3"><tspan font-style="italic">r</tspan> = 0.31</text>
<text x="478" y="420" font-size="11.3"><tspan font-style="italic">P</tspan> = 0.23</text>
<circle cx="501.5" cy="623.5" r="6.4" fill="#000" stroke="#fff" stroke-width="0.8"/>
<circle cx="529" cy="623.5" r="6.4" fill="#000" stroke="#fff" stroke-width="0.8"/>
<circle cx="523.1" cy="629.4" r="6.4" fill="#000" stroke="#fff" stroke-width="0.8"/>
<circle cx="536.6" cy="628.8" r="6.4" fill="#000" stroke="#fff" stroke-width="0.8"/>
<circle cx="544.7" cy="628.2" r="6.4" fill="#000" stroke="#fff" stroke-width="0.8"/>
<circle cx="552.9" cy="624.7" r="6.4" fill="#000" stroke="#fff" stroke-width="0.8"/>
<circle cx="513.2" cy="630.5" r="6.4" fill="#ec1c24" stroke="#fff" stroke-width="0.8"/>
<circle cx="492.8" cy="625.9" r="6.4" fill="#ec1c24" stroke="#fff" stroke-width="0.8"/>
<circle cx="505" cy="627.6" r="6.4" fill="#ec1c24" stroke="#fff" stroke-width="0.8"/>
<circle cx="507.4" cy="627.6" r="6.4" fill="#ec1c24" stroke="#fff" stroke-width="0.8"/>
<circle cx="523.1" cy="624.1" r="6.4" fill="#ec1c24" stroke="#fff" stroke-width="0.8"/>
<circle cx="538.9" cy="617.7" r="6.4" fill="#ec1c24" stroke="#fff" stroke-width="0.8"/>
<circle cx="629.8" cy="621.1" r="6.4" fill="#ec1c24" stroke="#fff" stroke-width="0.8"/>
<circle cx="661" cy="626" r="6.4" fill="#ec1c24" stroke="#fff" stroke-width="0.8"/>
</svg>
</body></html>
